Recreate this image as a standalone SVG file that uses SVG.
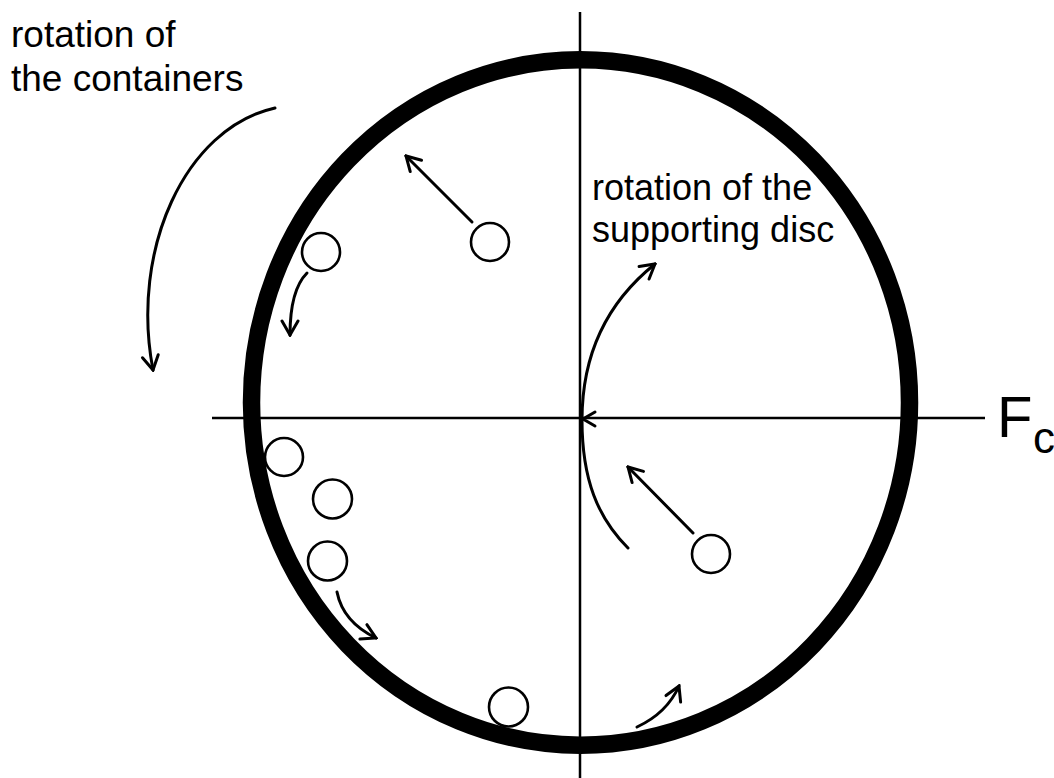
<svg xmlns="http://www.w3.org/2000/svg" width="1054" height="778" viewBox="0 0 1054 778">
<defs>
<style>
.ax{stroke:#000;stroke-width:2.5;fill:none}
.c{stroke:#000;stroke-width:2.6;fill:#fff}
.ar{stroke:#000;stroke-width:3;fill:none;stroke-linecap:round}
.t{font-family:"Liberation Sans",Arial,sans-serif;font-size:36px;fill:#000}
</style>
<marker id="ah" markerUnits="userSpaceOnUse" viewBox="-18 -10 20 20" markerWidth="20" markerHeight="20" refX="0" refY="0" orient="auto">
<path d="M-14,-8 L0,0 L-14,8" fill="none" stroke="#000" stroke-width="3" stroke-linecap="round" stroke-linejoin="miter"/>
</marker>
</defs>
<rect width="1054" height="778" fill="#fff"/>
<g id="disc">
<ellipse cx="580.5" cy="402.5" rx="329" ry="342.7" fill="none" stroke="#000" stroke-width="17.5"/>
</g>
<g id="axes">
<line class="ax" x1="580" y1="12" x2="580" y2="778"/>
<line class="ax" x1="212" y1="418" x2="985" y2="418"/>
</g>
<g id="containers">
<circle id="c1" class="c" cx="490" cy="242" r="19"/>
<circle id="c2" class="c" cx="321" cy="252" r="19"/>
<circle id="c3" class="c" cx="284" cy="457" r="19"/>
<circle id="c4" class="c" cx="332.5" cy="499" r="19.5"/>
<circle id="c5" class="c" cx="327.5" cy="561" r="19.5"/>
<circle id="c6" class="c" cx="508.5" cy="707" r="19.5"/>
<circle id="c7" class="c" cx="711" cy="554" r="19"/>
</g>
<g id="connectors">
<line class="ar" x1="472" y1="222" x2="406" y2="156" marker-end="url(#ah)"/>
<line class="ar" x1="693" y1="533" x2="628" y2="467" marker-end="url(#ah)"/>
<path class="ar" d="M275,108 C185,128 130,250 153,370" marker-end="url(#ah)"/>
<path class="ar" d="M307,273 Q290,290 290,335" marker-end="url(#ah)"/>
<path class="ar" d="M337,592 Q343,622 376,638" marker-end="url(#ah)"/>
<path class="ar" d="M637,727 Q667,713 679,686" marker-end="url(#ah)"/>
<path class="ar" d="M628,548 C598,518 582,480 582,420 C582,350 610,300 655,264" marker-end="url(#ah)"/>
<path class="ar" d="M595,412 L583,419 L595,426"/>
</g>
<g id="labels">
<text class="t" x="11" y="47" style="font-size:37px">rotation of</text>
<text class="t" x="11" y="91" style="font-size:37px">the containers</text>
<text class="t" x="592" y="200">rotation of the</text>
<text class="t" x="592" y="242">supporting disc</text>
<text font-family="Liberation Sans,Arial,sans-serif" font-size="58" x="997" y="437">F</text>
<text font-family="Liberation Sans,Arial,sans-serif" font-size="44" x="1033" y="453">c</text>
</g>
</svg>
